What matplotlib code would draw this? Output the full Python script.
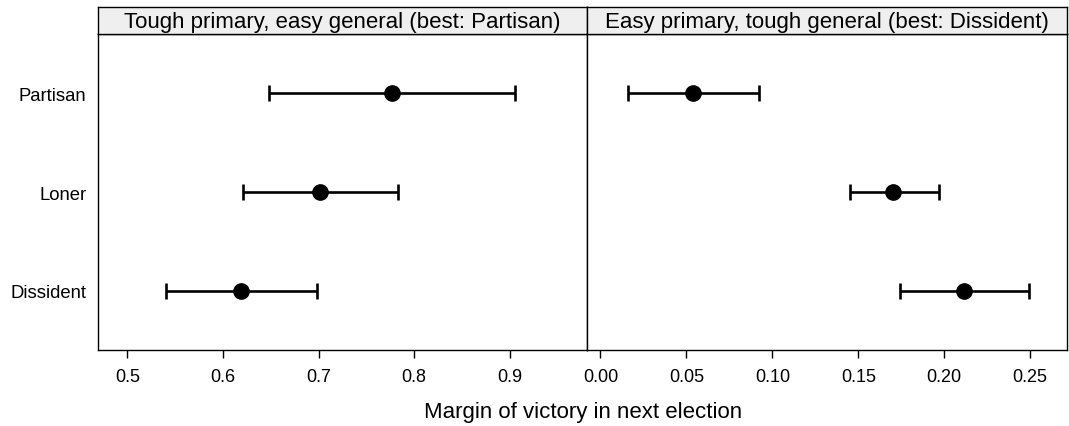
import matplotlib
matplotlib.use("Agg")
import matplotlib.pyplot as plt

plt.rcParams['font.family'] = ['Liberation Sans', 'DejaVu Sans']

# categories, top to bottom
strategies = ["Partisan", "Loner", "Dissident"]

# panel 1: tough primary, easy general
title1 = "Tough primary, easy general (best: Partisan)"
est1 = [0.777, 0.702, 0.619]
lo1 = [0.648, 0.621, 0.540]
hi1 = [0.906, 0.783, 0.698]
ticks1 = [0.5, 0.6, 0.7, 0.8, 0.9]
ticklabels1 = ["0.5", "0.6", "0.7", "0.8", "0.9"]

# panel 2: easy primary, tough general
title2 = "Easy primary, tough general (best: Dissident)"
est2 = [0.054, 0.170, 0.2115]
lo2 = [0.016, 0.145, 0.174]
hi2 = [0.092, 0.197, 0.2495]
ticks2 = [0.00, 0.05, 0.10, 0.15, 0.20, 0.25]
ticklabels2 = ["0.00", "0.05", "0.10", "0.15", "0.20", "0.25"]

xlabel = "Margin of victory in next election"

fig = plt.figure(figsize=(10.69, 4.27), dpi=100)
W, H = 1069, 427

panels = [
    (97.5, 587, title1, est1, lo1, hi1, ticks1, ticklabels1, (0.4686, 0.981)),
    (587, 1067, title2, est2, lo2, hi2, ticks2, ticklabels2, (-0.0078, 0.2714)),
]
top, bottom, striptop = 35, 351, 8.3

for i, (x0, x1, title, est, lo, hi, ticks, tlabels, xlim) in enumerate(panels):
    ax = fig.add_axes([x0 / W, 1 - bottom / H, (x1 - x0) / W, (bottom - top) / H])
    ypos = list(range(len(strategies)))
    xerr = [[e - l for e, l in zip(est, lo)], [h - e for e, h in zip(est, hi)]]
    ax.errorbar(est, ypos, xerr=xerr, fmt='o', color='black', ms=11,
                elinewidth=1.9, capsize=6, capthick=1.9)
    ax.set_xlim(*xlim)
    ax.set_ylim(2.6, -0.6)
    ax.set_xticks(ticks)
    ax.set_xticklabels(tlabels)
    ax.tick_params(axis='x', length=6, width=1, labelsize=13, pad=7)
    if i == 0:
        ax.set_yticks(ypos)
        ax.set_yticklabels(strategies)
        ax.tick_params(axis='y', length=0, labelsize=13.3, pad=8)
    else:
        ax.set_yticks([])
    for s in ax.spines.values():
        s.set_linewidth(1.0)

    sax = fig.add_axes([x0 / W, 1 - top / H, (x1 - x0) / W, (top - striptop) / H])
    sax.set_facecolor('#efefef')
    sax.set_xticks([])
    sax.set_yticks([])
    for s in sax.spines.values():
        s.set_linewidth(1.0)
    sax.text(0.5, 0.45, title, ha='center', va='center', fontsize=16,
             transform=sax.transAxes)

fig.text(583 / W, 1 - 413 / H, xlabel, ha='center', va='center', fontsize=16)

fig.savefig("out.png", dpi=100)
